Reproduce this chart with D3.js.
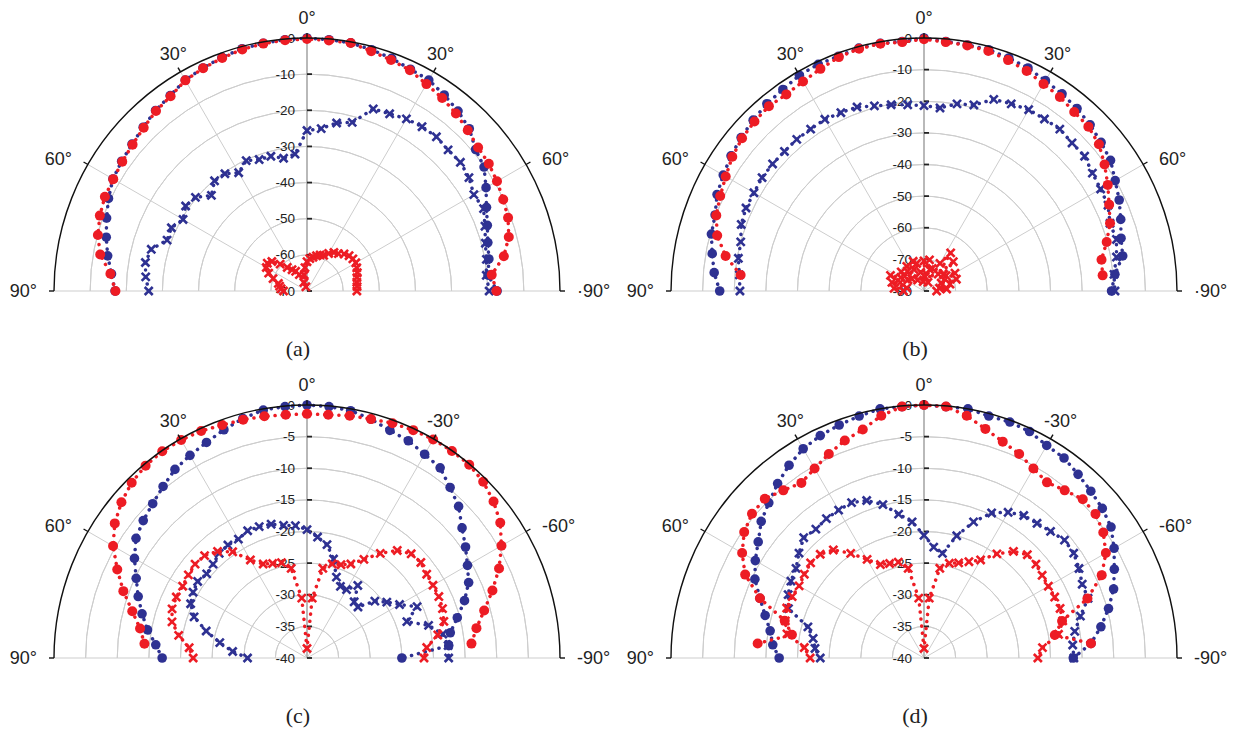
<!DOCTYPE html>
<html>
<head>
<meta charset="utf-8">
<script src="https://cdn.jsdelivr.net/npm/d3@7"></script>
<style>
  body { margin: 0; background: #fff; }
  svg text { font-family: "Liberation Sans", Arial, sans-serif; fill: #222; }
  .caption { font-family: "Liberation Serif", "DejaVu Serif", serif; }
</style>
</head>
<body>
<svg id="chart" width="1239" height="734"></svg>
<script>
// angle grid (deg), left side = +90, right side = -90
const angles = [90, 85, 80, 75, 70, 65, 60, 55, 50, 45, 40, 35, 30, 25, 20, 15, 10, 5, 0,
  -5, -10, -15, -20, -25, -30, -35, -40, -45, -50, -55, -60, -65, -70, -75, -80, -85, -90];

// (a)
const aBlueDot = [-16.9, -15.7, -14.0, -12.5, -11.0, -9.4, -8.0, -7.4, -6.8, -5.9, -4.8, -4.0, -2.6, -1.9, -1.2, -0.6, -0.4, -0.2, 0,
  -0.2, -0.3, -0.9, -1.5, -2.3, -2.6, -3.8, -5.0, -6.5, -9.1, -10.2, -12.8, -15.2, -16.9, -18.2, -18.9, -19.7, -17.4];
const aRedDot = [-17.0, -15.4, -11.9, -10.1, -9.0, -8.3, -8.1, -7.6, -7.0, -6.1, -5.0, -4.2, -2.7, -2.0, -1.4, -0.8, -0.5, -0.35, -0.3,
  -0.4, -0.35, -1.3, -2.0, -2.6, -3.9, -4.8, -5.9, -7.1, -8.2, -8.6, -9.3, -10.1, -10.8, -12.2, -14.7, -18.7, -17.6];
const aBlueCross = [-26.2, -25.2, -24.6, -25.4, -28.8, -28.6, -30.4, -29.0, -29.7, -32.6, -30.2, -30.4, -32.2, -30.2, -31.3, -31.4, -32.7, -32.0, -25.6,
  -24.9, -22.8, -21.7, -16.4, -15.9, -15.0, -14.5, -14.3, -14.8, -14.6, -15.3, -16.7, -16.1, -17.6, -18.9, -19.6, -20.2, -19.6];
const aRedCross = [-63.5, -62.8, -62.3, -61.8, -60.0, -58.3, -57.0, -56.6, -57.3, -59.5, -61.5, -62.8, -63.7, -65.0, -67.5, -68.8, -65.5, -63.5, -61.9,
  -61.0, -60.5, -59.9, -59.4, -59.1, -58.0, -57.0, -56.5, -55.5, -54.8, -54.5, -54.4, -54.8, -55.2, -55.7, -56.0, -56.1, -56.2];

// (b)
const bBlueDot = [-15.4, -13.4, -12.0, -10.4, -9.7, -7.8, -6.7, -5.5, -4.5, -3.6, -2.7, -2.2, -1.2, -0.9, -1.0, -0.5, -0.5, -0.8, 0,
  -0.8, -1.0, -1.0, -1.6, -2.2, -3.2, -3.9, -4.7, -5.7, -6.9, -8.0, -10.2, -11.9, -13.8, -15.5, -16.2, -19.4, -20.7];
const bRedDot = [null, -21.8, -16.3, -12.3, -10.1, -8.9, -7.6, -6.0, -4.9, -4.2, -3.7, -4.1, -3.5, -2.5, -1.3, -0.7, -0.6, -1.0, -0.4,
  -1.0, -1.2, -1.4, -2.3, -3.2, -4.4, -5.1, -6.1, -6.5, -7.8, -10.3, -12.9, -15.4, -17.4, -20.2, -23.0, -23.3, null];
const bBlueCross = [-21.8, -21.4, -20.4, -20.0, -18.5, -17.9, -17.9, -17.5, -17.5, -17.6, -17.4, -17.5, -17.3, -17.8, -18.1, -19.4, -20.2, -20.9, -21.4,
  -21.9, -19.9, -19.1, -15.5, -14.7, -13.8, -13.6, -13.2, -13.8, -13.7, -15.0, -15.5, -15.8, -17.4, -17.0, -18.2, -19.7, -19.6];
const bRedCross = [-73.5, -70.5, -74.5, -69.5, -72.0, -68.3, -71.5, -73.8, -70.6, -74.5, -71.8, -70.5, -76.0, -72.5, -70.0, -71.0, -74.0, -77.0, -70.5,
  -75.5, -70.0, -73.0, -72.4, -77.0, -69.9, -65.3, -73.0, -66.9, -72.0, -71.5, -68.7, -74.0, -69.1, -71.5, -75.0, -72.8, -76.0];

// (c)
const cBlueDot = [-17.1, -16.0, -14.4, -13.0, -11.6, -10.2, -8.5, -7.0, -6.2, -5.5, -4.6, -3.6, -3.0, -2.4, -1.6, -0.8, -0.2, -0.1, 0,
  -0.1, -0.3, -0.9, -1.7, -2.1, -2.8, -3.3, -4.8, -6.1, -8.0, -9.4, -10.7, -11.8, -13.5, -15.4, -17.0, -17.5, -25.0];
const cRedDot = [null, -14.2, -13.2, -11.4, -9.1, -6.9, -4.6, -2.9, -1.7, -0.8, -0.3, -0.1, -0.2, -0.4, -0.8, -1.0, -1.2, -1.4, -1.4,
  -1.4, -1.1, -0.9, -0.5, -0.25, -0.1, -0.05, -0.1, -0.6, -1.5, -2.7, -4.5, -6.5, -8.8, -11.0, -12.8, -13.9, null];
const cBlueCross = [-30.6, -28.2, -26.0, -23.5, -21.0, -19.7, -19.2, -18.9, -19.3, -19.0, -18.4, -18.2, -18.3, -17.8, -17.9, -18.1, -18.7, -19.0, -19.7,
  -20.8, -21.8, -23.8, -26.4, -27.5, -27.5, -26.0, -28.4, -28.6, -26.0, -24.6, -23.1, -20.8, -23.2, -20.1, -18.2, -17.6, -17.6];
const cRedCross = [-22.0, -21.3, -19.4, -17.9, -17.3, -17.2, -17.3, -17.1, -16.9, -17.1, -18.0, -19.5, -22.1, -23.6, -24.1, -24.4, -25.6, -30.5, -38.5,
  -30.5, -25.6, -24.6, -24.3, -23.6, -22.0, -19.8, -17.8, -16.7, -16.5, -16.9, -17.0, -17.0, -17.2, -17.6, -19.0, -21.0, -21.5];

// (d)
const dBlueDot = [-17.1, -16.0, -15.3, -14.0, -12.4, -10.5, -9.2, -8.0, -6.4, -5.3, -4.0, -2.8, -1.8, -1.2, -0.8, -0.4, 0, -0.1, 0,
  -0.1, 0, -0.4, -0.3, -0.5, -1.2, -1.4, -2.1, -2.7, -3.2, -3.9, -5.3, -6.8, -8.1, -9.8, -11.6, -13.5, -16.4];
const dRedDot = [null, -13.6, -18.8, -17.2, -12.4, -8.8, -6.8, -5.3, -4.5, -4.4, -5.4, -6.2, -5.4, -4.4, -3.4, -2.6, -1.1, -0.1, 0,
  -0.1, -1.1, -2.5, -3.6, -4.4, -5.4, -6.1, -5.4, -4.5, -4.6, -5.4, -6.8, -9.0, -12.5, -17.4, -19.0, -13.5, null];
const dBlueCross = [-23.6, -22.7, -22.2, -21.0, -17.2, -16.3, -15.7, -15.3, -14.2, -13.1, -13.4, -13.1, -13.0, -12.9, -13.5, -14.9, -16.9, -18.4, -20.6,
  -22.4, -23.2, -20.0, -17.1, -14.7, -13.4, -12.5, -12.2, -11.7, -11.0, -11.1, -11.7, -12.4, -12.4, -14.4, -15.8, -16.4, -16.3];
const dRedCross = [-22.0, -21.0, -18.0, -17.3, -16.9, -17.0, -17.2, -16.9, -16.6, -16.8, -17.7, -19.8, -22.0, -23.7, -24.1, -24.3, -25.6, -30.5, -38.5,
  -30.5, -25.6, -24.5, -24.0, -23.2, -22.1, -19.9, -18.0, -16.9, -16.9, -17.2, -17.3, -17.2, -17.1, -17.3, -18.4, -21.2, -22.0];

// axis labels
const angleTicks = [90, 60, 30, 0, -30, -60, -90];
const leftLabels = ['90°', '60°', '30°'];
const rightLabelsAB = ['30°', '60°', '·90°'];
const rightLabelsCD = ['-30°', '-60°', '-90°'];

const BLUE = '#2e3192', RED = '#ed1c24';
const R = 253;

const panels = [
  {cap: '(a)', cx: 307, cy: 291, min: -70, nt: 7, right: rightLabelsAB, data: [aBlueDot, aBlueCross, aRedDot, aRedCross]},
  {cap: '(b)', cx: 924, cy: 291, min: -80, nt: 8, right: rightLabelsAB, data: [bBlueDot, bBlueCross, bRedDot, bRedCross]},
  {cap: '(c)', cx: 307, cy: 658, min: -40, nt: 8, right: rightLabelsCD, data: [cBlueDot, cBlueCross, cRedDot, cRedCross]},
  {cap: '(d)', cx: 924, cy: 658, min: -40, nt: 8, right: rightLabelsCD, data: [dBlueDot, dBlueCross, dRedDot, dRedCross]},
];

// series look: blue circle, blue cross, red circle, red cross
const seriesStyle = [
  {color: BLUE, mark: 'circle', r: 4.8},
  {color: BLUE, mark: 'cross'},
  {color: RED, mark: 'circle', r: 5},
  {color: RED, mark: 'cross'},
];

// label anchor offsets from centre (dx, dy above baseline)
const labelOff = {90: [270, 0], 60: [235, 132], 30: [120, 237]};

const svg = d3.select('#chart');
const aScale = d3.scaleLinear().domain([90, -90]).range([-Math.PI / 2, Math.PI / 2]);

panels.forEach(p => {
  const rScale = d3.scaleLinear().domain([p.min, 0]).range([0, R]);
  const g = svg.append('g').attr('transform', `translate(${p.cx},${p.cy})`);

  // grid rings
  const ticks = rScale.ticks(p.nt);
  const ring = d3.arc().startAngle(-Math.PI / 2).endAngle(Math.PI / 2);
  g.selectAll('.ring')
    .data(ticks.filter(t => t > p.min && t < 0))
    .enter().append('path')
    .attr('d', t => ring({innerRadius: rScale(t), outerRadius: rScale(t)}))
    .attr('fill', 'none').attr('stroke', '#cdcdcd').attr('stroke-width', 1);

  // spokes
  g.selectAll('.spoke')
    .data(angleTicks.filter(a => a !== 0))
    .enter().append('line')
    .attr('x1', 0).attr('y1', 0)
    .attr('x2', a => d3.pointRadial(aScale(a), R)[0])
    .attr('y2', a => d3.pointRadial(aScale(a), R)[1])
    .attr('stroke', '#cdcdcd').attr('stroke-width', 1);

  // vertical radial axis
  g.append('line').attr('x1', 0).attr('x2', 0).attr('y1', 0).attr('y2', -R)
    .attr('stroke', '#a8a8a8').attr('stroke-width', 1.6);

  // radial ticks + labels
  g.selectAll('.rtick')
    .data(ticks)
    .enter().append('line')
    .attr('x1', 0).attr('x2', 5)
    .attr('y1', t => -rScale(t)).attr('y2', t => -rScale(t))
    .attr('stroke', '#222').attr('stroke-width', 1.8);
  g.selectAll('.rlab')
    .data(ticks)
    .enter().append('text')
    .attr('x', -12).attr('y', t => -rScale(t))
    .attr('text-anchor', 'end').attr('dominant-baseline', 'central')
    .attr('font-size', 13.5)
    .text(t => String(t));

  // series
  const line = d3.lineRadial()
    .defined(d => d != null)
    .angle((d, i) => aScale(angles[i]))
    .radius(d => rScale(d));
  p.data.forEach((vals, si) => {
    const st = seriesStyle[si];
    g.append('path')
      .datum(vals)
      .attr('d', line)
      .attr('fill', 'none')
      .attr('stroke', st.color)
      .attr('stroke-width', 3.5)
      .attr('stroke-linecap', 'round')
      .attr('stroke-dasharray', '0.1,7');
    const pts = vals.map((v, i) => v == null ? null : d3.pointRadial(aScale(angles[i]), rScale(v)))
      .filter(d => d);
    if (st.mark === 'circle') {
      g.selectAll(null).data(pts).enter().append('circle')
        .attr('cx', d => d[0]).attr('cy', d => d[1]).attr('r', st.r)
        .attr('fill', st.color);
    } else {
      g.selectAll(null).data(pts).enter().append('path')
        .attr('transform', d => `translate(${d[0]},${d[1]})`)
        .attr('d', d3.symbol(d3.symbolX, 44))
        .attr('fill', 'none').attr('stroke', st.color).attr('stroke-width', 2.6);
    }
  });

  // outer arc + angle ticks
  g.append('path')
    .attr('d', ring({innerRadius: R, outerRadius: R}))
    .attr('fill', 'none').attr('stroke', '#111').attr('stroke-width', 1.4);
  g.selectAll('.atick')
    .data(angleTicks)
    .enter().append('line')
    .attr('x1', a => d3.pointRadial(aScale(a), R)[0])
    .attr('y1', a => d3.pointRadial(aScale(a), R)[1])
    .attr('x2', a => d3.pointRadial(aScale(a), R + 5)[0])
    .attr('y2', a => d3.pointRadial(aScale(a), R + 5)[1])
    .attr('stroke', '#111').attr('stroke-width', 1.4);

  // angle labels
  g.append('text').attr('x', 0).attr('y', -273)
    .attr('text-anchor', 'middle').attr('dominant-baseline', 'central')
    .attr('font-size', 18).text('0°');
  [90, 60, 30].forEach((a, i) => {
    const [dx, dy] = labelOff[a];
    g.append('text').attr('x', -dx).attr('y', -dy)
      .attr('text-anchor', 'end').attr('dominant-baseline', 'central')
      .attr('font-size', 18).text(leftLabels[i]);
  });
  [30, 60, 90].forEach((a, i) => {
    const [dx, dy] = labelOff[a];
    g.append('text').attr('x', dx).attr('y', -dy)
      .attr('text-anchor', 'start').attr('dominant-baseline', 'central')
      .attr('font-size', 18).text(p.right[i]);
  });

  // caption
  svg.append('text').attr('class', 'caption')
    .attr('x', p.cx - 9).attr('y', p.cy + 65)
    .attr('text-anchor', 'middle')
    .attr('font-size', 22)
    .text(p.cap);
});
</script>
</body>
</html>
